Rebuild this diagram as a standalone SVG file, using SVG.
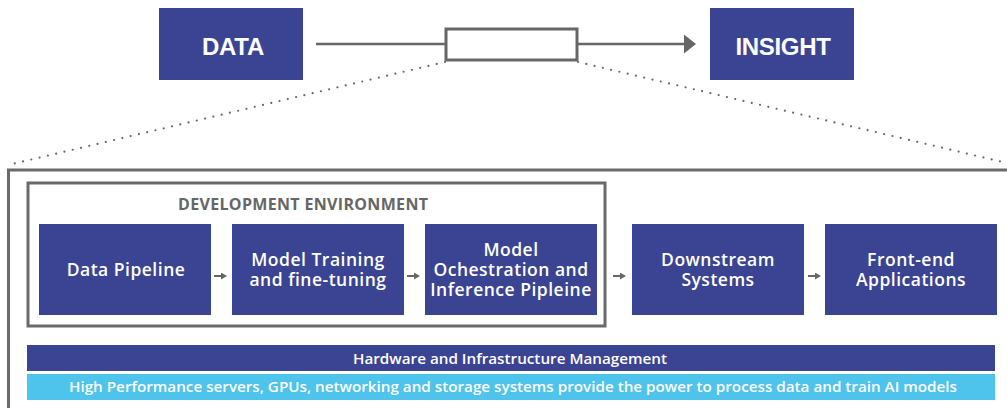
<svg xmlns="http://www.w3.org/2000/svg" width="1007" height="408" viewBox="0 0 1007 408">
<style>
.blk{fill:#3b4493}
.lt{fill:#4ec3ec}
.frame{fill:none;stroke:#6a6a6a;stroke-width:3}
.big{font-family:"Liberation Sans",Arial,sans-serif;font-weight:bold;font-size:24px;fill:#fff;text-anchor:middle;letter-spacing:-0.3px}
.lbl{font-family:"Open Sans","Noto Sans",sans-serif;font-weight:600;font-size:17.5px;fill:#fff;text-anchor:middle;letter-spacing:0.5px}
.bar{font-family:"Open Sans","Noto Sans",sans-serif;font-weight:600;font-size:14.5px;fill:#fff;text-anchor:middle}
.title{font-family:"Open Sans","Noto Sans",sans-serif;font-weight:bold;font-size:16px;fill:#666;text-anchor:middle}
.conn{stroke:#666;stroke-width:2.5;fill:none}
.small{stroke:#666;stroke-width:2;fill:none}
.dots{stroke:#666;stroke-width:2.2;stroke-linecap:round;stroke-dasharray:0 8.5;fill:none}
</style>
<defs>
<marker id="bigHead" markerUnits="userSpaceOnUse" markerWidth="13" markerHeight="20" refX="1" refY="9.5" orient="auto">
<path d="M0,0 L12,9.5 L0,19 z" fill="#666"/>
</marker>
<marker id="smallHead" markerUnits="userSpaceOnUse" markerWidth="7" markerHeight="8" refX="1" refY="3.5" orient="auto">
<path d="M0,0 L6,3.5 L0,7 z" fill="#666"/>
</marker>
</defs>

<g id="outer-frame">
<rect class="frame" x="8.5" y="170" width="1010" height="260"/>
</g>

<g id="dev-env">
<rect class="frame" x="28" y="183" width="577" height="143"/>
<text class="title" x="303" y="210" textLength="250" lengthAdjust="spacing">DEVELOPMENT ENVIRONMENT</text>
</g>

<g id="connectors">
<line class="conn" x1="316" y1="44" x2="446" y2="44"/>
<line class="conn" x1="577" y1="44" x2="685" y2="44" marker-end="url(#bigHead)"/>
<line class="dots" x1="445" y1="62" x2="8" y2="165"/>
<line class="dots" x1="578" y1="62" x2="1007" y2="163"/>
<line class="small" x1="214" y1="276" x2="222" y2="276" marker-end="url(#smallHead)"/>
<line class="small" x1="407" y1="276" x2="415" y2="276" marker-end="url(#smallHead)"/>
<line class="small" x1="613" y1="276" x2="621" y2="276" marker-end="url(#smallHead)"/>
<line class="small" x1="808" y1="276" x2="816" y2="276" marker-end="url(#smallHead)"/>
</g>

<g id="data">
<rect class="blk" x="159" y="8" width="144" height="72"/>
<text class="big" x="233" y="55">DATA</text>
</g>

<g id="process">
<rect x="446" y="29" width="131" height="31" fill="#fff" stroke="#666" stroke-width="3"/>
</g>

<g id="insight">
<rect class="blk" x="710" y="8" width="144" height="72"/>
<text class="big" x="783" y="55">INSIGHT</text>
</g>

<g id="data-pipeline">
<rect class="blk" x="39" y="224" width="172" height="91"/>
<text class="lbl" x="126" y="276">Data Pipeline</text>
</g>

<g id="model-training">
<rect class="blk" x="232" y="224" width="172" height="91"/>
<text class="lbl" x="318" y="266">Model Training</text>
<text class="lbl" x="318" y="286">and fine-tuning</text>
</g>

<g id="model-orchestration">
<rect class="blk" x="425" y="224" width="172" height="91"/>
<text class="lbl" x="511" y="256">Model</text>
<text class="lbl" x="511" y="276">Ochestration and</text>
<text class="lbl" x="511" y="296">Inference Pipleine</text>
</g>

<g id="downstream">
<rect class="blk" x="632" y="224" width="172" height="91"/>
<text class="lbl" x="718" y="266">Downstream</text>
<text class="lbl" x="718" y="286">Systems</text>
</g>

<g id="frontend">
<rect class="blk" x="825" y="224" width="172" height="91"/>
<text class="lbl" x="911" y="266">Front-end</text>
<text class="lbl" x="911" y="286">Applications</text>
</g>

<g id="hardware-bar">
<rect class="blk" x="27" y="345" width="968" height="26"/>
<text class="bar" x="510" y="364" textLength="314" lengthAdjust="spacingAndGlyphs">Hardware and Infrastructure Management</text>
</g>

<g id="servers-bar">
<rect class="lt" x="27" y="374" width="968" height="26"/>
<text class="bar" x="513" y="392" textLength="888" lengthAdjust="spacingAndGlyphs">High Performance servers, GPUs, networking and storage systems provide the power to process data and train AI models</text>
</g>
</svg>
